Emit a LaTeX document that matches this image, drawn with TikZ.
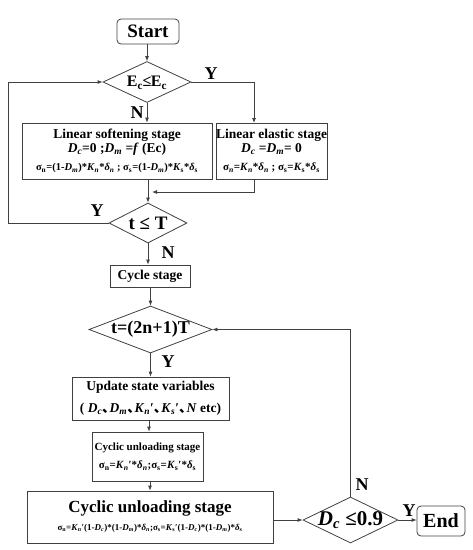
\documentclass[tikz,border=0pt]{standalone}
\usepackage{fontspec}
\setmainfont{Liberation Serif}
\newfontfamily\cjk{Noto Sans CJK SC}
\usetikzlibrary{shapes.geometric,arrows.meta,calc}
\newcommand\myDc{\textit{D}\textsubscript{\textit{c}}}
\newcommand\myDm{\textit{D}\textsubscript{\textit{m}}}
\newcommand\myKn{\textit{K}\textsubscript{\textit{n}}}
\newcommand\myKs{\textit{K}\textsubscript{s}}
\newcommand\mydn{\textit{δ}\textsubscript{\textit{n}}}
\newcommand\myds{\textit{δ}\textsubscript{s}}
\newcommand\mysn{σ\textsubscript{n}}
\newcommand\myss{σ\textsubscript{s}}
\newcommand\fs[1]{\fontsize{#1}{#1}\selectfont}
\newcommand\dun{\makebox[0.55em][l]{\cjk 、}}
\begin{document}
\begin{tikzpicture}[x=1pt,y=-1pt,
  line/.style={draw=black!75, line width=0.8pt},
  arr/.style={line, -{Latex[length=5pt,width=4pt]}},
  box/.style={line, rectangle, inner sep=0pt, align=center},
  dia/.style={line, diamond, inner sep=0pt},
  lbl/.style={font=\bfseries\fs{18}, inner sep=0pt}]
\useasboundingbox (0,0) rectangle (473,550);

% nodes
\node[box, rounded corners=4pt, minimum width=62pt, minimum height=25pt, font=\bfseries\fs{19}] (start) at (148,31.5) {Start};

\node[dia, minimum width=88pt, minimum height=41pt] (d1) at (147,82) {};
\node[font=\bfseries\fs{16}, inner sep=0pt] (d1t) at (147,83) {E\textsubscript{c}\kern-0.5pt≤\kern-0.5pt E\textsubscript{c}};

\node[box, minimum width=190pt, minimum height=56pt, font=\bfseries\fontsize{13.5}{14}\selectfont] (soft) at (117,151)
 {Linear softening stage\\ \myDc=0 ;\myDm{} =\textit{f} (Ec)\\[4pt]
  {\fs{10.5}\mysn=(1-\myDm)*\myKn*\mydn{} ; \myss=(1-\myDm)*\myKs*\myds}};

\node[box, minimum width=109pt, minimum height=56pt, font=\bfseries\fontsize{13.5}{14}\selectfont] (elastic) at (271.5,151)
 {Linear elastic stage\\ \myDc{} =\myDm= 0\\[4pt]
  {\fs{11}σ\textsubscript{\textit{n}}=\myKn*\mydn{} ; \myss=\myKs*\myds}};

\node[dia, minimum width=78pt, minimum height=40pt] (d2) at (148,223) {};
\node[font=\bfseries\fs{19}, inner sep=0pt] (d2t) at (d2) {t ≤ T};

\node[box, minimum width=80pt, minimum height=22pt, font=\bfseries\fs{13.5}] (cycle) at (150,276) {Cycle stage};

\node[dia, minimum width=123pt, minimum height=47pt] (d3) at (150.5,329.5) {};
\node[font=\bfseries\fs{18}, inner sep=0pt] (d3t) at (d3) {t=(2n+1)T};

\node[box, minimum width=157pt, minimum height=43pt, font=\bfseries\fontsize{13.5}{22}\selectfont] (update) at (150.5,398.5)
 {Update state variables\\ ( \myDc\dun\myDm\dun\myKn′\dun\textit{K}\textsubscript{\textit{s}}′\dun\textit{N} etc)};

\node[box, minimum width=111pt, minimum height=49pt, font=\bfseries\fontsize{11}{18}\selectfont] (small) at (147.5,456.5)
 {Cyclic unloading stage\\ {\fs{11}\mysn=\myKn′*\mydn;\myss=\myKs′*\myds}};

\node[box, minimum width=246pt, minimum height=52pt, font=\bfseries\fontsize{17}{18}\selectfont] (big) at (150,517)
 {Cyclic unloading stage\\ {\fs{9}\mysn=\myKn′(1-\myDc)*(1-\myDm)*\mydn;\myss=\myKs′(1-\myDc)*(1-\myDm)*\myds}};

\node[dia, minimum width=95pt, minimum height=46pt] (d4) at (350.5,520) {};
\node[font=\bfseries\fs{21}, inner sep=0pt] (d4t) at (d4) {\myDc{} ≤0.9};

\node[box, rounded corners=4pt, minimum width=48pt, minimum height=30pt, font=\bfseries\fs{20}] (end) at (441,521) {End};

% coordinates
\coordinate (eIn) at (254,123);
\coordinate (eOut) at (254,179);
\coordinate (join) at (152,192);
\coordinate (lp) at (8,223);

% connectors
\draw[arr] (start.south -| d1.north) -- (d1.north);
\draw[arr] (d1.south) -- (d1.south |- soft.north);
\draw[arr] (d1.east) -| (eIn);
\draw[arr] (soft.south -| d2.north) -- (d2.north);
\draw[arr] (eOut) |- (join);
\draw[arr] (d2.west) -- (lp) |- (d1.west);
\draw[arr] (d2.south) -- (d2.south |- cycle.north);
\draw[arr] (cycle.south -| d3.north) -- (d3.north);
\draw[arr] (d3.south) -- (d3.south |- update.north);
\draw[arr] (update.south -| 149,0) -- (small.north -| 149,0);
\draw[arr] (small.south -| 150,0) -- (big.north -| 150,0);
\draw[arr] (big.east |- d4.west) -- (d4.west);
\draw[arr] (d4.north) |- (d3.east);
\draw[arr] (d4.east) -- (d4.east -| end.west);

% labels
\node[lbl] (yl1) at (211,74) {Y};
\node[lbl] (nl1) at (137,113) {N};
\node[lbl] (yl2) at (97,211) {Y};
\node[lbl] (nl2) at (168,253) {N};
\node[lbl] (yl3) at (168,362) {Y};
\node[lbl] (nl4) at (362,485) {N};
\node[lbl] (yl4) at (409,511) {Y};
\end{tikzpicture}
\end{document}
